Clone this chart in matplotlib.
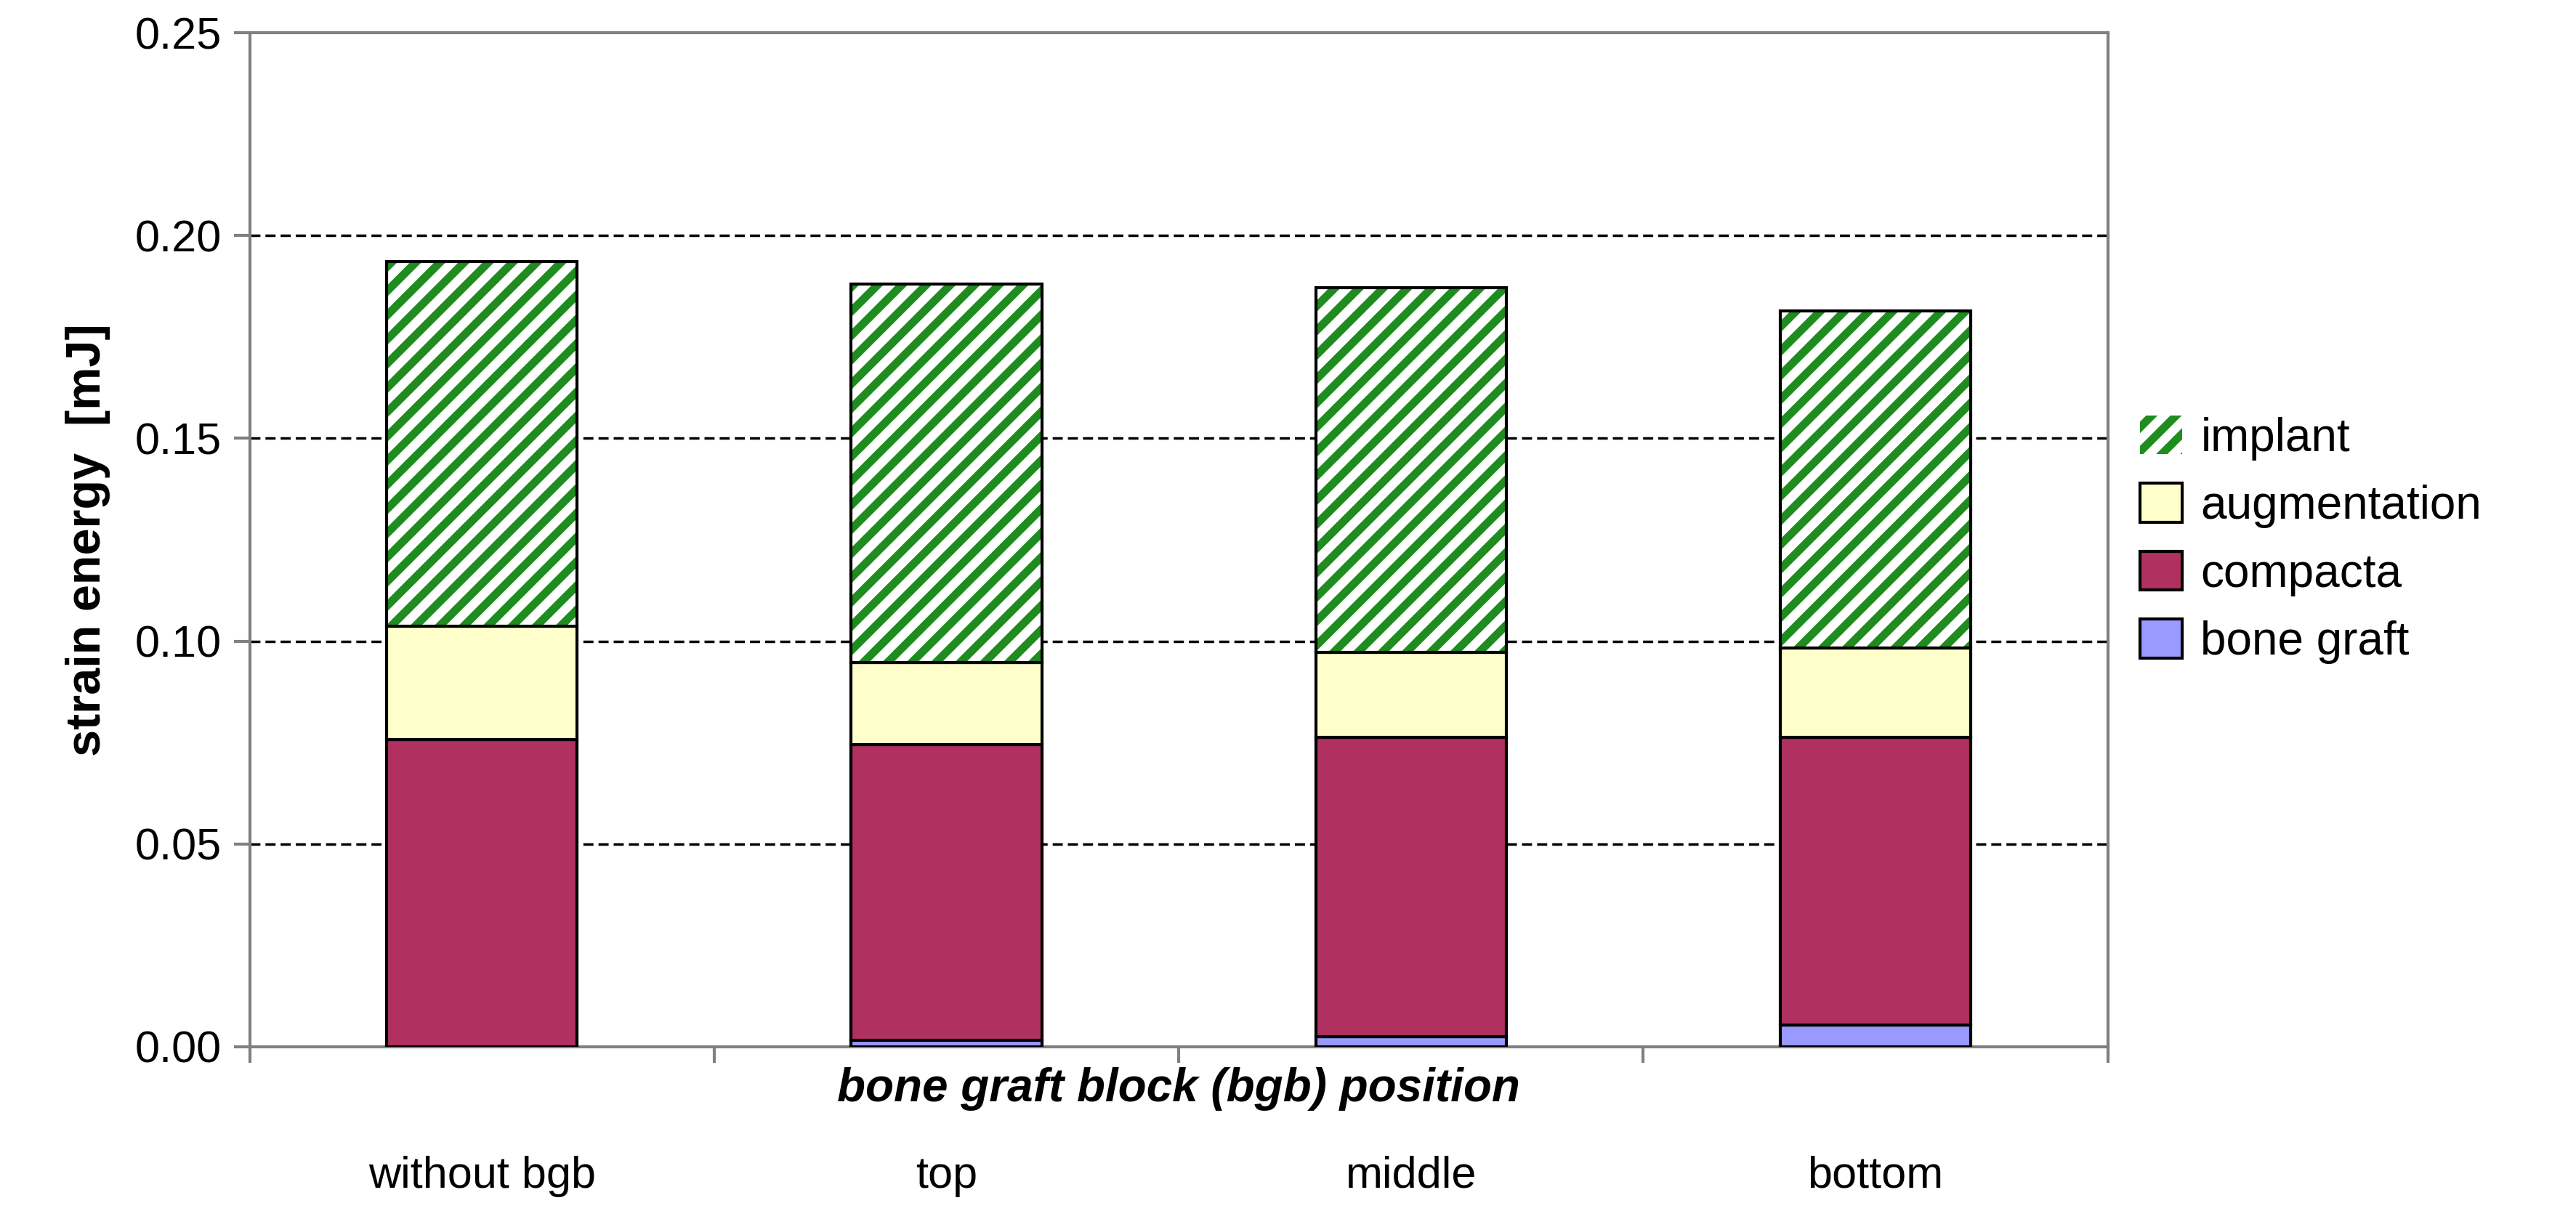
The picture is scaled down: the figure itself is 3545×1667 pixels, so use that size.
import matplotlib.pyplot as plt
import numpy as np

plt.rcParams['font.family'] = ['Liberation Sans', 'DejaVu Sans']
plt.rcParams['hatch.linewidth'] = 8

categorias = ["without bgb", "top", "middle", "bottom"]
bone_graft = [0.0, 0.0016, 0.0024, 0.0053]
compacta = [0.0758, 0.0729, 0.0738, 0.0709]
augmentation = [0.0279, 0.0203, 0.0210, 0.0222]
implant = [0.0900, 0.0932, 0.0900, 0.0831]

fig = plt.figure(figsize=(35.45, 16.67), dpi=100)
ax = fig.add_axes([152/1568, 1 - 637/737, (1283-152)/1568, (637-20)/737])

x = np.arange(len(categorias))
w = 0.41
b1 = np.array(bone_graft)
b2 = b1 + np.array(compacta)
b3 = b2 + np.array(augmentation)
ec = dict(edgecolor="black", linewidth=3, zorder=3)
ax.bar(x, bone_graft, w, color="#9999FF", label="bone graft", **ec)
ax.bar(x, compacta, w, bottom=b1, color="#B03060", label="compacta", **ec)
ax.bar(x, augmentation, w, bottom=b2, color="#FFFFCC", label="augmentation", **ec)
hb = ax.bar(x, implant, w, bottom=b3, color="white", label="implant",
            hatch="/", zorder=3, linewidth=0)
for r in hb:
    r.set_edgecolor("#1E8C1E")
ax.bar(x, implant, w, bottom=b3, fill=False, edgecolor="black", linewidth=3, zorder=4)

ax.set_xlim(-0.5, 3.5)
ax.set_ylim(0, 0.25)
ax.set_yticks(np.arange(0, 0.251, 0.05))
ax.set_yticklabels([f"{v:.2f}" for v in np.arange(0, 0.251, 0.05)], fontsize=44)
ax.set_xticks(np.arange(-0.5, 3.6, 1))
ax.set_xticklabels([])
ax.tick_params(axis="x", length=16, width=3, color="#808080")
ax.tick_params(axis="y", length=16, width=3, color="#808080", pad=12)
for yv in [0.05, 0.10, 0.15, 0.20]:
    ax.axhline(yv, color="black", linestyle=(0, (4, 2)), linewidth=2.5, zorder=1)
for s in ax.spines.values():
    s.set_color("#808080")
    s.set_linewidth(3)

for i, c in enumerate(categorias):
    ax.text(i, -0.032, c, ha="center", va="center", fontsize=44)
ax.text(1.5, -0.0105, "bone graft block (bgb) position", ha="center", va="center",
        fontsize=46, fontweight="bold", style="italic")
ax.set_ylabel("strain energy  [mJ]", fontsize=48, fontweight="bold", labelpad=24)

h, l = ax.get_legend_handles_labels()
ax.legend(h[::-1], l[::-1], loc="center left", bbox_to_anchor=(0.995, 0.5), frameon=False,
          fontsize=46, handlelength=0.9, handleheight=0.9, handletextpad=0.4, labelspacing=0.5)

fig.savefig("out.png", dpi=100)
